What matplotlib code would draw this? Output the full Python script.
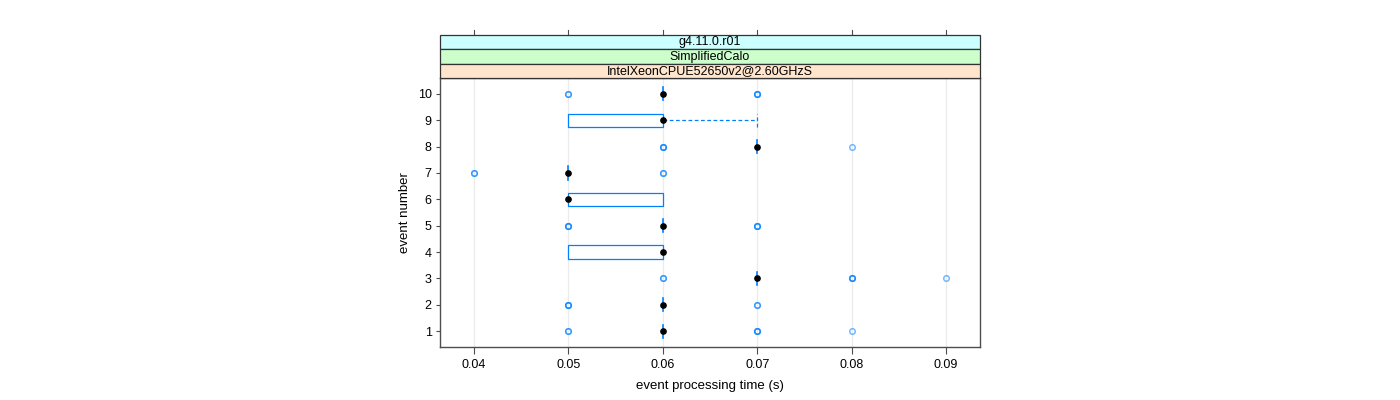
"""
Lattice-style bwplot of event processing time per event number.
"""
import matplotlib
matplotlib.use("Agg")
import matplotlib.pyplot as plt
from matplotlib.patches import Rectangle

plt.rcParams["font.family"] = ["Liberation Sans", "DejaVu Sans"]

EVENTS = [1, 2, 3, 4, 5, 6, 7, 8, 9, 10]
Q1 = [0.06, 0.06, 0.07, 0.05, 0.06, 0.05, 0.05, 0.07, 0.05, 0.06]
MEDIAN = [0.06, 0.06, 0.07, 0.06, 0.06, 0.05, 0.05, 0.07, 0.06, 0.06]
Q3 = [0.06, 0.06, 0.07, 0.06, 0.06, 0.06, 0.05, 0.07, 0.06, 0.06]
WHISK_LO = [0.06, 0.06, 0.07, 0.05, 0.06, 0.05, 0.05, 0.07, 0.05, 0.06]
WHISK_HI = [0.06, 0.06, 0.07, 0.06, 0.06, 0.06, 0.05, 0.07, 0.07, 0.06]
# repeated values overplot and look darker, as in the original
OUTLIERS = [
    [0.05, 0.05, 0.07, 0.07, 0.07, 0.08],
    [0.05, 0.05, 0.05, 0.07, 0.07],
    [0.06, 0.06, 0.08, 0.08, 0.08, 0.09],
    [],
    [0.05, 0.05, 0.05, 0.07, 0.07, 0.07],
    [],
    [0.04, 0.04, 0.06, 0.06],
    [0.06, 0.06, 0.06, 0.08],
    [],
    [0.05, 0.05, 0.07, 0.07, 0.07],
]
X_TICKS = [0.04, 0.05, 0.06, 0.07, 0.08, 0.09]
STRIPS = ["g4.11.0.r01", "SimplifiedCalo", "IntelXeonCPUE52650v2@2.60GHzS"]
STRIP_COLORS = ["#ccffff", "#ccffcc", "#ffe5cc"]

BLUE = "#0080ff"
FS = 9

fig = plt.figure(figsize=(14, 4), dpi=100)
ax = fig.add_axes([440 / 1400, 1 - 347 / 400, 540 / 1400, 269 / 400])

for x in X_TICKS:
    ax.axvline(x, color="#ebebeb", lw=0.9, zorder=0)

half = 0.25
for i, ev in enumerate(EVENTS):
    if Q3[i] > Q1[i]:
        ax.add_patch(Rectangle((Q1[i], ev - half), Q3[i] - Q1[i], 2 * half,
                               fill=False, ec=BLUE, lw=0.9, zorder=2))
    else:
        # zero-width box collapses to a short line
        ax.plot([Q1[i]] * 2, [ev - half, ev + half], color=BLUE, lw=1.2, zorder=2)
    if WHISK_HI[i] > Q3[i]:
        ax.plot([Q3[i], WHISK_HI[i]], [ev, ev], color=BLUE, lw=0.9, ls=(0, (3, 2)), zorder=2)
        ax.plot([WHISK_HI[i]] * 2, [ev - half, ev + half], color=BLUE, lw=0.9, ls=(0, (3, 2)), zorder=2)
    if WHISK_LO[i] < Q1[i]:
        ax.plot([WHISK_LO[i], Q1[i]], [ev, ev], color=BLUE, lw=0.9, ls=(0, (3, 2)), zorder=2)
        ax.plot([WHISK_LO[i]] * 2, [ev - half, ev + half], color=BLUE, lw=0.9, ls=(0, (3, 2)), zorder=2)
    for v in OUTLIERS[i]:
        ax.plot(v, ev, "o", ms=4.0, mfc="none", mec=BLUE, mew=1.1, alpha=0.55, zorder=3)
    ax.plot(MEDIAN[i], ev, "o", ms=3.8, color="black", zorder=4)

ax.set_xlim(0.0364, 0.0936)
ax.set_ylim(0.4, 10.6)
ax.set_xticks(X_TICKS)
ax.set_xticklabels([f"{x:.2f}" for x in X_TICKS], fontsize=FS)
ax.set_yticks(EVENTS)
ax.set_yticklabels([str(e) for e in EVENTS], fontsize=FS)
ax.tick_params(axis="both", length=5, width=0.8, color="#4d4d4d", pad=4)
ax.tick_params(axis="y", length=3, pad=3)
for s in ax.spines.values():
    s.set_color("#4d4d4d")
    s.set_linewidth(1.0)
ax.set_xlabel("event processing time (s)", fontsize=FS + 0.5, labelpad=6)
ax.set_ylabel("event number", fontsize=FS + 0.5, labelpad=5)

# strips above the panel, top to bottom
strip_h = 14.3 / 269
for k, (label, col) in enumerate(zip(STRIPS, STRIP_COLORS)):
    y0 = 1 + (len(STRIPS) - 1 - k) * strip_h
    ax.add_patch(Rectangle((0, y0), 1, strip_h, transform=ax.transAxes,
                           fc=col, ec="#333333", lw=0.9, clip_on=False, zorder=5))
    ax.text(0.5, y0 + strip_h / 2, label, transform=ax.transAxes, ha="center",
            va="center", fontsize=FS, clip_on=False, zorder=6)

# lattice puts the top tick marks above the strips
top = 1 + len(STRIPS) * strip_h
for x in X_TICKS:
    xa = (x - 0.0364) / (0.0936 - 0.0364)
    ax.plot([xa, xa], [top, top + 5 / 269], transform=ax.transAxes,
            color="#4d4d4d", lw=0.8, clip_on=False)

fig.savefig("out.png", dpi=100)
